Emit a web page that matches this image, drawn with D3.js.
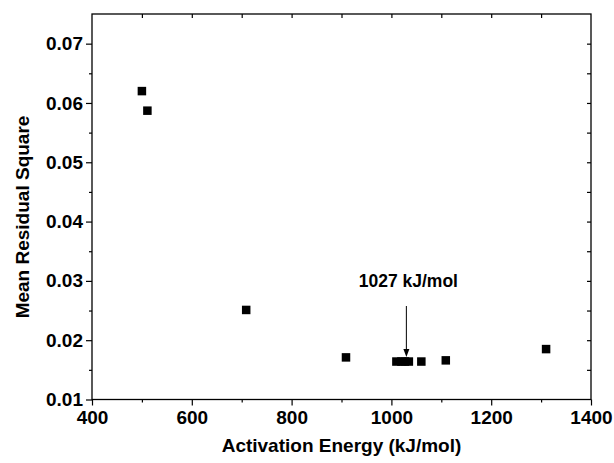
<!DOCTYPE html>
<html><head><meta charset="utf-8">
<script src="https://cdn.jsdelivr.net/npm/d3@7"></script>
<style>body{margin:0;background:#fff}svg{display:block}text{font-family:"Liberation Sans",Arial,sans-serif;font-weight:bold}</style>
</head><body>
<svg id="c" width="614" height="463"></svg>
<script>
const energy = [500, 511, 709, 909, 1010, 1020, 1027, 1035, 1060, 1109, 1310];
const residual = [0.0620, 0.0587, 0.0251, 0.0171, 0.0164, 0.0164, 0.0164, 0.0164, 0.0164, 0.0166, 0.0185];
const xTicks = [400, 600, 800, 1000, 1200, 1400];
const yTicks = [0.01, 0.02, 0.03, 0.04, 0.05, 0.06, 0.07];
const annotation = {x: 1030, label: "1027 kJ/mol"};

const svg = d3.select("#c");
const L = 92, R = 591, T = 14, B = 399.5;
const x = d3.scaleLinear().domain([400, 1400]).range([L, R]);
const y = d3.scaleLinear().domain([0.01, 0.075]).range([B, T]);

svg.append("rect").attr("x", L).attr("y", T).attr("width", R - L).attr("height", B - T)
  .attr("fill", "none").attr("stroke", "#000").attr("stroke-width", 1.3);

const minorX = d3.range(500, 1400, 200);
const minorY = d3.range(0.015, 0.075, 0.01);

const gx = svg.append("g").attr("transform", `translate(0,${B})`)
  .call(d3.axisBottom(x).tickValues(xTicks).tickFormat(d3.format("d")).tickSize(6).tickPadding(5));
svg.append("g").attr("transform", `translate(0,${B})`)
  .call(d3.axisBottom(x).tickValues(minorX).tickFormat("").tickSize(3));
const gy = svg.append("g").attr("transform", `translate(${L},0)`)
  .call(d3.axisLeft(y).tickValues(yTicks).tickFormat(d3.format(".2f")).tickSize(6).tickPadding(3));
svg.append("g").attr("transform", `translate(${L},0)`)
  .call(d3.axisLeft(y).tickValues(minorY).tickFormat("").tickSize(3));
svg.append("g").attr("transform", `translate(0,${T})`)
  .call(d3.axisBottom(x).tickValues(d3.range(500, 1400, 100)).tickFormat("").tickSize(4));
svg.append("g").attr("transform", `translate(${R},0)`)
  .call(d3.axisLeft(y).tickValues(d3.range(0.015, 0.075, 0.005)).tickFormat("").tickSize(4));

svg.selectAll(".domain").remove();
svg.selectAll(".tick line").attr("stroke", "#000").attr("stroke-width", 1.2);
gx.selectAll("text").attr("font-size", 19).attr("fill", "#000");
gy.selectAll("text").attr("font-size", 19).attr("fill", "#000");

const s = 8.5;
svg.append("g").selectAll("rect").data(energy).join("rect")
  .attr("x", (d) => x(d) - s / 2).attr("y", (d, i) => y(residual[i]) - s / 2)
  .attr("width", s).attr("height", s).attr("fill", "#000");

const ax = x(annotation.x);
svg.append("line").attr("x1", ax).attr("x2", ax).attr("y1", 306).attr("y2", 351)
  .attr("stroke", "#000").attr("stroke-width", 1);
svg.append("path").attr("d", `M${ax - 3},${349} L${ax + 3},${349} L${ax},${357} Z`).attr("fill", "#000");
svg.append("text").attr("x", ax + 2).attr("y", 287).attr("text-anchor", "middle")
  .attr("font-size", 17.5).text(annotation.label);

svg.append("text").attr("x", (L + R) / 2).attr("y", 452).attr("text-anchor", "middle")
  .attr("font-size", 19).text("Activation Energy (kJ/mol)");
svg.append("text").attr("transform", `translate(29,217) rotate(-90)`)
  .attr("text-anchor", "middle").attr("font-size", 19).text("Mean Residual Square");
</script>
</body></html>
